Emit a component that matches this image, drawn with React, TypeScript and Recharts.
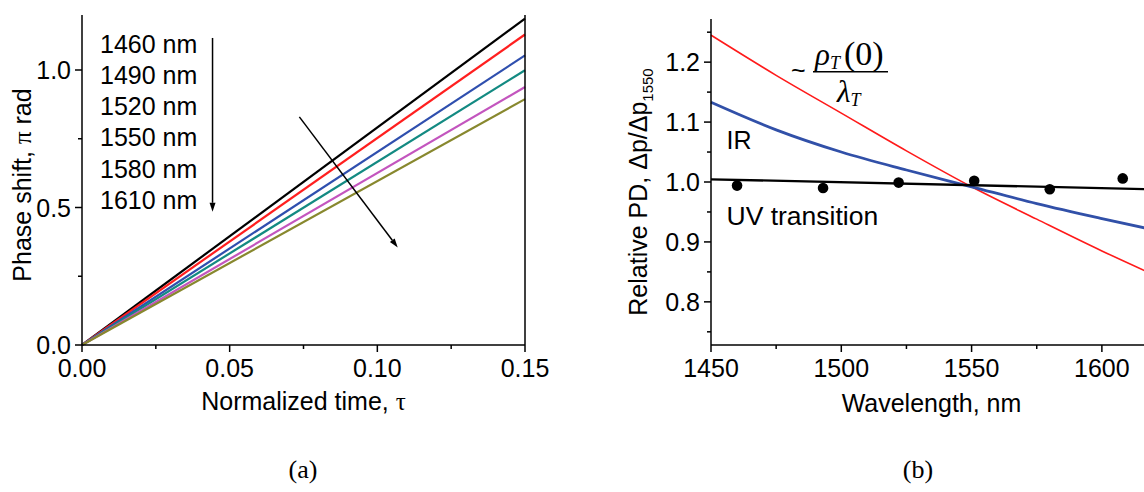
import React from 'react';
import { ComposedChart, Line, Scatter, XAxis, YAxis, ReferenceLine } from 'recharts';

// ---------- Panel (a): phase shift vs normalized time ----------
const probeLabels = ['1460 nm', '1490 nm', '1520 nm', '1550 nm', '1580 nm', '1610 nm'];
const probeColors = ['#000000', '#ff1f1f', '#2f4fae', '#138a82', '#c355be', '#88882e'];
const timeSpan = [0, 0.15];
const phaseAtStart = [0, 0, 0, 0, 0, 0];
const phaseAtEnd = [1.187, 1.129, 1.053, 0.999, 0.938, 0.894];
const timeTicks = [0, 0.025, 0.05, 0.075, 0.1, 0.125, 0.15];
const phaseTicks = [0, 0.25, 0.5, 0.75, 1.0];
// direction arrows (tau, phase)
const trendArrow = [{ x: 0.0736, y: 0.8295 }, { x: 0.1069, y: 0.3548 }];
const listArrow = [{ x: 0.0442, y: 1.1165 }, { x: 0.0442, y: 0.4844 }];

// ---------- Panel (b): relative PD vs wavelength ----------
const modelWavelengths = [1450, 1475, 1500, 1525, 1550, 1575, 1600, 1620];
const densityModel = [1.245, 1.178, 1.115, 1.052, 0.992, 0.938, 0.885, 0.845];
const irModel = [1.133, 1.087, 1.05, 1.02, 0.992, 0.964, 0.939, 0.92];
const uvFitWavelengths = [1450, 1620];
const uvFit = [1.0045, 0.9878];
const measuredWavelengths = [1460, 1493, 1522, 1551, 1580, 1608];
const measuredPD = [0.994, 0.99, 0.999, 1.002, 0.988, 1.006];
const wavelengthTicks = [1450, 1475, 1500, 1525, 1550, 1575, 1600];
const pdTicks = [0.75, 0.8, 0.85, 0.9, 0.95, 1.0, 1.05, 1.1, 1.15, 1.2, 1.25];

const SANS = "'Liberation Sans', Arial, Helvetica, sans-serif";
const SERIF = "'Liberation Serif', 'Times New Roman', serif";
const FS = 25;
const AXIS = { stroke: '#000', strokeWidth: 1.5 };

const phaseRows = timeSpan.map((t, i) => {
  const row: Record<string, number> = { t };
  phaseAtEnd.forEach((end, k) => {
    row['s' + k] = i === 0 ? phaseAtStart[k] : end;
  });
  return row;
});
const modelRows = modelWavelengths.map((w, i) => ({ w, red: densityModel[i], blue: irModel[i] }));
const fitRows = uvFitWavelengths.map((w, i) => ({ w, v: uvFit[i] }));
const pointRows = measuredWavelengths.map((w, i) => ({ w, pd: measuredPD[i] }));

const onStep = (v: number, step: number) => Math.abs(v / step - Math.round(v / step)) < 1e-6;

type Side = 'bottom' | 'left' | 'right' | 'top';
const makeTick = (side: Side, step: number, fmt: ((v: number) => string) | null) => (props: any) => {
  const { x, y, payload } = props;
  const v = payload.value as number;
  const major = onStep(v, step);
  const len = major ? 7 : 4;
  let line;
  let label = null;
  if (side === 'bottom') {
    line = <line x1={x} y1={y} x2={x} y2={y + len} stroke="#000" strokeWidth={1.5} />;
    if (major && fmt)
      label = (
        <text x={x} y={y + 32} textAnchor="middle" fontSize={FS} fontFamily={SANS} fill="#000">
          {fmt(v)}
        </text>
      );
  } else if (side === 'left') {
    line = <line x1={x - len} y1={y} x2={x} y2={y} stroke="#000" strokeWidth={1.5} />;
    if (major && fmt)
      label = (
        <text x={x - 11} y={y + 9} textAnchor="end" fontSize={FS} fontFamily={SANS} fill="#000">
          {fmt(v)}
        </text>
      );
  } else if (side === 'right') {
    line = <line x1={x} y1={y} x2={x + len - 2} y2={y} stroke="#000" strokeWidth={1.2} />;
  } else {
    line = <line x1={x} y1={y} x2={x} y2={y - len + 2} stroke="#000" strokeWidth={1.2} />;
  }
  return (
    <g>
      {line}
      {label}
    </g>
  );
};

const arrowShape = (head: number, half: number) => (p: any) => {
  const { x1, y1, x2, y2 } = p;
  const a = Math.atan2(y2 - y1, x2 - x1);
  const bx = x2 - head * Math.cos(a);
  const by = y2 - head * Math.sin(a);
  const nx = -Math.sin(a) * half;
  const ny = Math.cos(a) * half;
  return (
    <g>
      <line x1={x1} y1={y1} x2={bx} y2={by} stroke="#000" strokeWidth={1.5} />
      <polygon points={`${x2},${y2} ${bx + nx},${by + ny} ${bx - nx},${by - ny}`} fill="#000" />
    </g>
  );
};

function PhasePanel() {
  return (
    <ComposedChart width={560} height={440} data={phaseRows} margin={{ top: 15, right: 0, bottom: 0, left: 0 }}>
      <XAxis
        xAxisId="b"
        dataKey="t"
        type="number"
        domain={[0, 0.15]}
        ticks={timeTicks}
        interval={0}
        height={95}
        tickSize={0}
        tickMargin={0}
        tickLine={false}
        axisLine={AXIS}
        tick={makeTick('bottom', 0.05, (v) => v.toFixed(2))}
      />
      <XAxis
        xAxisId="t"
        orientation="top"
        type="number"
        domain={[0, 0.15]}
        ticks={timeTicks}
        interval={0}
        height={0}
        tickSize={0}
        tickMargin={0}
        tickLine={false}
        axisLine={AXIS}
        tick={makeTick('top', 0.05, null)}
      />
      <YAxis
        yAxisId="l"
        type="number"
        domain={[0, 1.2]}
        ticks={phaseTicks}
        interval={0}
        width={82}
        tickSize={0}
        tickMargin={0}
        tickLine={false}
        axisLine={AXIS}
        tick={makeTick('left', 0.5, (v) => v.toFixed(1))}
      />
      <YAxis
        yAxisId="r"
        orientation="right"
        type="number"
        domain={[0, 1.2]}
        ticks={phaseTicks}
        interval={0}
        width={35}
        tickSize={0}
        tickMargin={0}
        tickLine={false}
        axisLine={AXIS}
        tick={makeTick('right', 0.5, null)}
      />
      {probeLabels.map((name, k) => (
        <Line
          key={name}
          name={name}
          xAxisId="b"
          yAxisId="l"
          dataKey={'s' + k}
          stroke={probeColors[k]}
          strokeWidth={2.2}
          dot={false}
          isAnimationActive={false}
        />
      ))}
      <ReferenceLine xAxisId="b" yAxisId="l" segment={trendArrow} shape={arrowShape(9, 3)} />
      <ReferenceLine xAxisId="b" yAxisId="l" segment={listArrow} shape={arrowShape(9, 3)} />
    </ComposedChart>
  );
}

function WavelengthPanel() {
  return (
    <ComposedChart width={560} height={440} margin={{ top: 19, right: 6, bottom: 0, left: 0 }}>
      <XAxis
        xAxisId="b"
        dataKey="w"
        type="number"
        domain={[1450, 1620]}
        ticks={wavelengthTicks}
        interval={0}
        height={95}
        tickSize={0}
        tickMargin={0}
        tickLine={false}
        axisLine={AXIS}
        tick={makeTick('bottom', 50, (v) => String(v))}
      />
      <XAxis
        xAxisId="t"
        orientation="top"
        type="number"
        domain={[1450, 1620]}
        height={0}
        tick={false}
        tickLine={false}
        axisLine={AXIS}
      />
      <YAxis
        yAxisId="l"
        type="number"
        domain={[0.728, 1.272]}
        ticks={pdTicks}
        interval={0}
        width={111}
        tickSize={0}
        tickMargin={0}
        tickLine={false}
        axisLine={AXIS}
        allowDataOverflow
        tick={makeTick('left', 0.1, (v) => v.toFixed(1))}
      />
      <Line
        xAxisId="b"
        yAxisId="l"
        data={modelRows}
        dataKey="red"
        type="monotone"
        stroke="#ff1a1a"
        strokeWidth={1.6}
        dot={false}
        isAnimationActive={false}
      />
      <Line
        xAxisId="b"
        yAxisId="l"
        data={modelRows}
        dataKey="blue"
        type="monotone"
        stroke="#3150a8"
        strokeWidth={2.8}
        dot={false}
        isAnimationActive={false}
      />
      <Line
        xAxisId="b"
        yAxisId="l"
        data={fitRows}
        dataKey="v"
        stroke="#000"
        strokeWidth={2.3}
        dot={false}
        isAnimationActive={false}
      />
      <Scatter
        xAxisId="b"
        yAxisId="l"
        data={pointRows}
        dataKey="pd"
        fill="#000"
        isAnimationActive={false}
        shape={(p: any) => <circle cx={p.cx} cy={p.cy} r={5.3} fill="#000" />}
      />
    </ComposedChart>
  );
}

function Annotations() {
  const legendBase = 52.5;
  const legendStep = 31.3;
  return (
    <svg
      width={1144}
      height={492}
      style={{ position: 'absolute', left: 0, top: 0, pointerEvents: 'none' }}
    >
      <g fontFamily={SANS} fontSize={FS} fill="#000">
        {probeLabels.map((name, k) => (
          <text key={name} x={100} y={legendBase + k * legendStep}>
            {name}
          </text>
        ))}
        <text transform="translate(31,185) rotate(-90)" textAnchor="middle">
          Phase shift, <tspan fontFamily={SERIF}>π</tspan> rad
        </text>
        <text x={303.5} y={410} textAnchor="middle">
          Normalized time, <tspan fontFamily={SERIF}>τ</tspan>
        </text>
        <text transform="translate(647,192) rotate(-90)" textAnchor="middle">
          Relative PD,  Δp/Δp
          <tspan fontSize={15} dy={6}>
            1550
          </tspan>
        </text>
        <text x={931.5} y={412} textAnchor="middle">
          Wavelength, nm
        </text>
        <text x={726.5} y={148.5}>IR</text>
        <text x={726.5} y={225} fontSize={26.5}>UV transition</text>
        <text x={791} y={79}>~</text>
      </g>
      <g fontFamily={SERIF} fill="#000">
        <text x={815} y={65}>
          <tspan fontStyle="italic" fontSize={31}>ρ</tspan>
          <tspan fontStyle="italic" fontSize={18} dy={4}>T</tspan>
          <tspan fontSize={34} dy={-4} dx={4}>(0)</tspan>
        </text>
        <line x1={813} y1={71.7} x2={888} y2={71.7} stroke="#000" strokeWidth={1.4} />
        <text x={837} y={102}>
          <tspan fontStyle="italic" fontSize={31}>λ</tspan>
          <tspan fontStyle="italic" fontSize={18} dy={4}>T</tspan>
        </text>
        <text x={303} y={478} fontSize={26} textAnchor="middle">(a)</text>
        <text x={918} y={478} fontSize={26} textAnchor="middle">(b)</text>
      </g>
    </svg>
  );
}

export default function App() {
  return (
    <div
      style={{
        position: 'absolute',
        left: 0,
        top: 0,
        width: 1144,
        height: 492,
        overflow: 'hidden',
        background: '#fff',
      }}
    >
      <div style={{ position: 'absolute', left: 0, top: 0 }}>
        <PhasePanel />
      </div>
      <div style={{ position: 'absolute', left: 600, top: 0 }}>
        <WavelengthPanel />
      </div>
      <Annotations />
    </div>
  );
}
